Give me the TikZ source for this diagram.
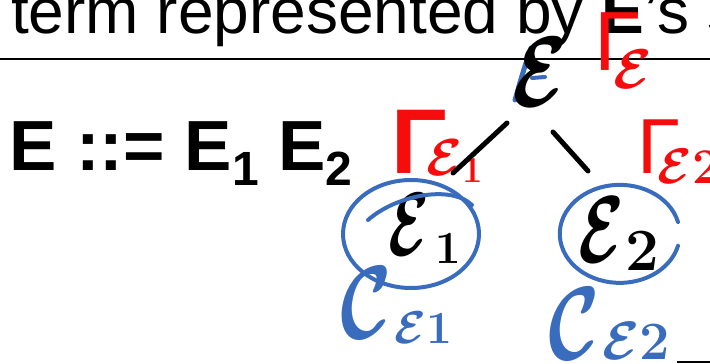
\RequirePackage{fix-cm}
\documentclass[tikz,border=0pt]{standalone}
\usepackage{amsmath}
\usepackage{graphicx}
\usepackage{fontspec}
\setmainfont{Liberation Sans}
\usetikzlibrary{calc}
\definecolor{penblue}{RGB}{58, 108, 190}
\definecolor{penred}{RGB}{245, 12, 12}
\definecolor{slideink}{RGB}{0, 0, 0}

% handwritten index: kern, raise, size, math content
\newcommand{\penidx}[4]{\hspace{#1}\raisebox{#2}{\fontsize{#3}{#3}\selectfont$#4$}}
\newcommand{\penE}[1]{\scalebox{#1}[1]{$\boldsymbol{\mathcal{E}}$}}

\tikzset{
  hand/.style={inner sep=0pt, outer sep=0pt, anchor=base west},
  branch/.style={draw=black, line width=5pt, line cap=round},
  loop/.style={draw=penblue, line width=4pt, line cap=round},
  sliderule/.style={draw=slideink, line width=2pt}
}

\begin{document}
\begin{tikzpicture}[x=1pt, y=-1pt]
    \useasboundingbox (0,0) rectangle (710,364);
    \clip (0,0) rectangle (710,364);

    % slide text
    \node [anchor=base west, inner sep=0pt, font=\fontsize{64}{70}\selectfont] (title) at (11,33) {term represented by \textbf{E}'s s};
    \draw [sliderule] (0,59) -- (710,59);
    \draw [sliderule] (677,362) -- (712,362);
    \node [anchor=base west, inner sep=0pt, font=\bfseries\fontsize{71}{80}\selectfont] (grammar) at (9,170)
        {E ::= E\raisebox{-15pt}{\fontsize{48}{50}\selectfont 1} E\raisebox{-15pt}{\fontsize{48}{50}\selectfont 2}};

    % handwriting: blue spine under the root
    \draw [draw=penblue, line width=5pt, line cap=round] (531,48) .. controls (524,68) and (519,86) .. (515,100);
    \draw [draw=penblue, line width=4pt, line cap=round] (532,78) -- (545,77);

    \node [hand, anchor=center, text=black, font=\fontsize{100}{100}\selectfont] (topE) at (540,72) {\penE{0.8}};
    \node [hand, text=penred, font=\fontsize{84}{84}\selectfont] (gammaTop) at (594,70)
        {Γ\penidx{-27pt}{-18pt}{56}{\boldsymbol{\mathcal{E}}}};

    \node [hand, text=penred, font=\bfseries\fontsize{92}{92}\selectfont] (gammaOne) at (391,173)
        {Γ\penidx{-20pt}{-2pt}{52}{\boldsymbol{\mathcal{E}}_{\boldsymbol{1}}}};
    \node [hand, text=penred, font=\fontsize{78}{78}\selectfont] (gammaTwo) at (637,173)
        {Γ\penidx{-22pt}{-10pt}{50}{\boldsymbol{\mathcal{E}}\boldsymbol{2}}};

    \node [hand, text=black, font=\fontsize{90}{90}\selectfont] (leafOne) at (388,255)
        {\penE{0.66}\penidx{6pt}{-8pt}{46}{\boldsymbol{1}}};
    \node [hand, text=black, font=\fontsize{95}{95}\selectfont] (leafTwo) at (578,262)
        {\penE{0.7}\penidx{2pt}{-8pt}{60}{\boldsymbol{2}}};

    \node [hand, text=penblue, font=\fontsize{104}{104}\selectfont] (costOne) at (340,338)
        {\scalebox{0.75}[1]{$\boldsymbol{\mathcal{C}}$}\penidx{3pt}{-5pt}{46}{\boldsymbol{\mathcal{E}}\boldsymbol{1}}};
    \node [hand, text=penblue, font=\fontsize{104}{104}\selectfont] (costTwo) at (548,359)
        {\scalebox{0.75}[1]{$\boldsymbol{\mathcal{C}}$}\penidx{3pt}{0pt}{54}{\boldsymbol{\mathcal{E}}\boldsymbol{2}}};

    % tree branches
    \draw [branch] ([shift={(-33,51)}]topE.center) -- ([shift={(65,-82)}]leafOne.base west);
    \draw [branch] ([shift={(13,60)}]topE.center) -- ([shift={(10,-91)}]leafTwo.base west);

    % circles round the subterms
    \draw [loop] ([shift={(23,-21)}]leafOne.base west) ellipse [x radius=68, y radius=54];
    \draw [loop] (368,220) .. controls (395,196) and (450,184) .. (472,205);
    \draw [loop] ([shift={(100,-40)}]leafTwo.base west) arc [start angle=-14, end angle=-346, x radius=60, y radius=49];
\end{tikzpicture}
\end{document}
